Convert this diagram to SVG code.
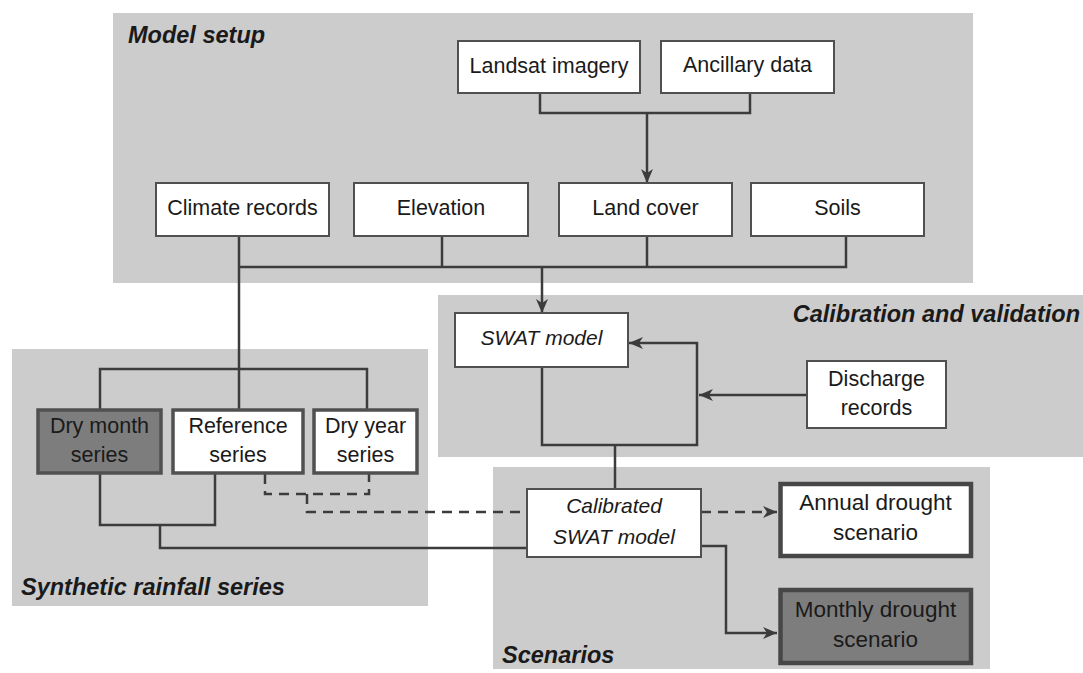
<svg xmlns="http://www.w3.org/2000/svg" width="1083" height="673" viewBox="0 0 1083 673">
<defs>
<style>
.panel{fill:#cccccc;stroke:none}
.box{fill:#ffffff;stroke:#505050;stroke-width:2}
.thick{fill:#ffffff;stroke:#505050;stroke-width:3.5}
.heavy{fill:#ffffff;stroke:#474747;stroke-width:4.5}
.dark{fill:#7d7d7d}
.t{font-family:"Liberation Sans",Arial,sans-serif;font-size:21.5px;fill:#1a1a1a;text-anchor:middle}
.ti{font-style:italic;font-size:21px}
.tb{font-size:22.5px}
.title{font-family:"Liberation Sans",Arial,sans-serif;font-size:23.5px;font-weight:bold;font-style:italic;fill:#1a1a1a}
.ln{fill:none;stroke:#3c3c3c;stroke-width:2.5}
.dash{stroke-dasharray:10 7}
</style>
<marker id="arr" markerUnits="userSpaceOnUse" markerWidth="16" markerHeight="14" refX="14" refY="6" orient="auto" viewBox="0 0 16 12">
<path d="M0,0 L14,6 L0,12 L4,6 z" fill="#3c3c3c"/>
</marker>
</defs>

<g id="panels">
<rect class="panel" x="113" y="13" width="860" height="270"/>
<rect class="panel" x="438" y="295" width="645" height="162"/>
<rect class="panel" x="12" y="349" width="416" height="257"/>
<rect class="panel" x="493" y="467" width="497" height="202"/>
<text class="title" x="128" y="43">Model setup</text>
<text class="title" x="1080" y="322" text-anchor="end">Calibration and validation</text>
<text class="title" x="21" y="595">Synthetic rainfall series</text>
<text class="title" x="502" y="663">Scenarios</text>
</g>

<g id="connectors">
<path class="ln" d="M540,93 V113 H750 V93"/>
<path class="ln" d="M647,113 V183" marker-end="url(#arr)"/>
<path class="ln" d="M239,236 V409"/>
<path class="ln" d="M239,267 H846 V236"/>
<path class="ln" d="M442,236 V267"/>
<path class="ln" d="M647,236 V267"/>
<path class="ln" d="M542,267 V313" marker-end="url(#arr)"/>
<path class="ln" d="M542,367 V445 H697 V343 H629" marker-end="url(#arr)"/>
<path class="ln" d="M807,395 H699" marker-end="url(#arr)"/>
<path class="ln" d="M615,445 V489"/>
<path class="ln" d="M100,409 V369 H367 V409"/>
<path class="ln" d="M100,474 V525 H215 V474"/>
<path class="ln" d="M160,525 V548 H527"/>
<path class="ln dash" d="M265,474 V494 H369 V474"/>
<path class="ln dash" d="M307,494 V512 H527"/>
<path class="ln dash" d="M701,512 H777" marker-end="url(#arr)"/>
<path class="ln" d="M701,546 H726 V633 H777" marker-end="url(#arr)"/>
</g>

<g id="landsat"><rect class="box" x="458" y="41" width="182" height="52"/><text class="t" x="549" y="73">Landsat imagery</text></g>
<g id="ancillary"><rect class="box" x="661" y="41" width="173" height="52"/><text class="t" x="747.5" y="72">Ancillary data</text></g>
<g id="climate"><rect class="box" x="156" y="183" width="173" height="53"/><text class="t" x="242.5" y="215">Climate records</text></g>
<g id="elevation"><rect class="box" x="354" y="183" width="174" height="53"/><text class="t" x="441" y="215">Elevation</text></g>
<g id="landcover"><rect class="box" x="559" y="183" width="173" height="53"/><text class="t" x="645.5" y="215">Land cover</text></g>
<g id="soils"><rect class="box" x="751" y="183" width="173" height="53"/><text class="t" x="837.5" y="215">Soils</text></g>

<g id="swat"><rect class="box" x="455" y="313" width="173" height="54"/><text class="t ti" x="541.5" y="345">SWAT model</text></g>
<g id="discharge"><rect class="box" x="807" y="361" width="139" height="67"/><text class="t" x="876.5" y="386">Discharge</text><text class="t" x="876.5" y="415">records</text></g>

<g id="drymonth"><rect class="thick dark" x="38" y="410" width="123" height="63"/><text class="t" x="99.5" y="433">Dry month</text><text class="t" x="99.5" y="462">series</text></g>
<g id="reference"><rect class="thick" x="173" y="410" width="130" height="63"/><text class="t" x="238" y="433">Reference</text><text class="t" x="238" y="462">series</text></g>
<g id="dryyear"><rect class="thick" x="314" y="410" width="103" height="63"/><text class="t" x="365.5" y="433">Dry year</text><text class="t" x="365.5" y="462">series</text></g>

<g id="calibrated"><rect class="box" x="527" y="489" width="174" height="68"/><text class="t ti" x="614" y="513">Calibrated</text><text class="t ti" x="614" y="544">SWAT model</text></g>
<g id="annual"><rect class="heavy" x="780.5" y="484" width="190.5" height="72"/><text class="t tb" x="875.5" y="510">Annual drought</text><text class="t tb" x="875.5" y="540">scenario</text></g>
<g id="monthly"><rect class="heavy dark" x="780.5" y="590" width="190.5" height="73"/><text class="t tb" x="875.5" y="617">Monthly drought</text><text class="t tb" x="875.5" y="647">scenario</text></g>
</svg>
